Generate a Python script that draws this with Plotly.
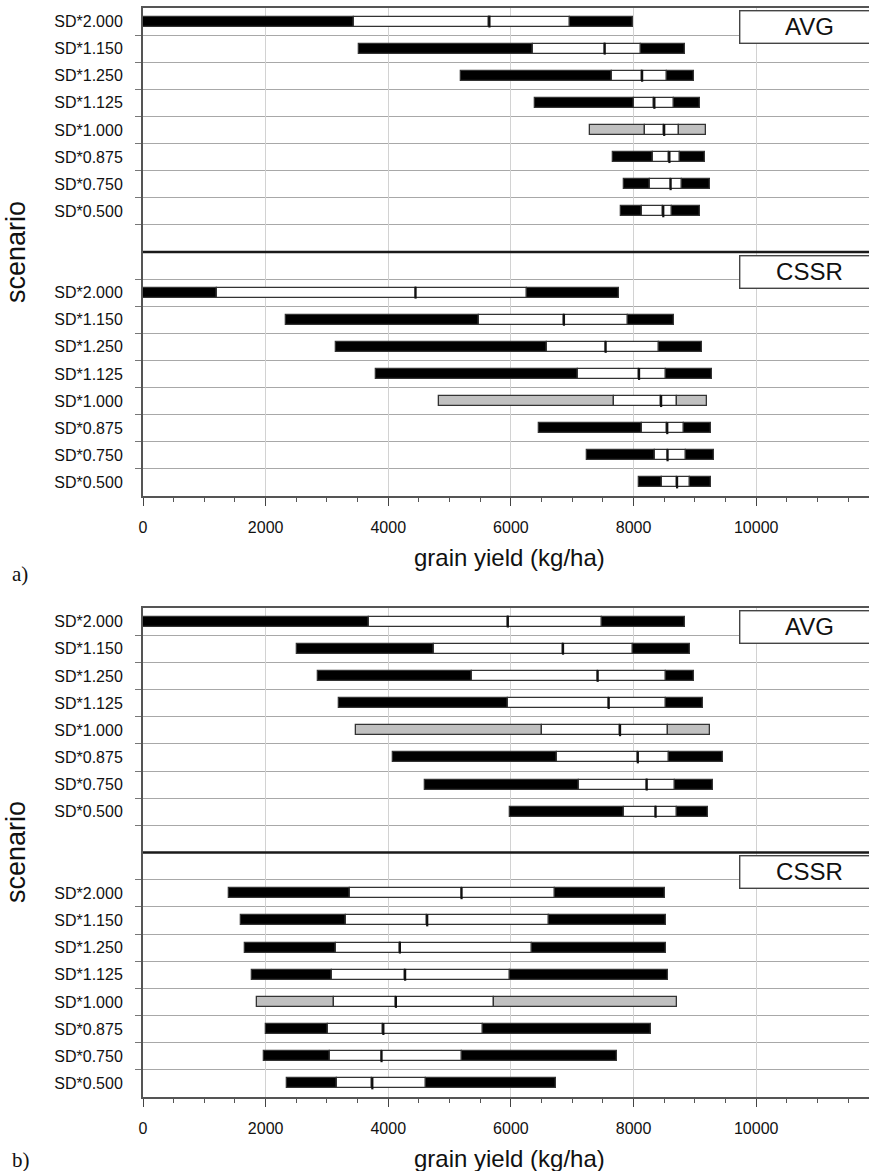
import plotly.graph_objects as go

# Scenario labels (top to bottom within each block)
scenarios = ["SD*2.000", "SD*1.150", "SD*1.250", "SD*1.125",
             "SD*1.000", "SD*0.875", "SD*0.750", "SD*0.500"]
baseline_index = 4  # SD*1.000 drawn in grey

x_ticks = [0, 2000, 4000, 6000, 8000, 10000]

# Panel a) — AVG
a_avg_min = [0, 3530, 5190, 6400, 7290, 7670, 7840, 7800]
a_avg_q1 = [3445, 6365, 7650, 8000, 8180, 8310, 8265, 8140]
a_avg_med = [5650, 7530, 8140, 8340, 8500, 8585, 8605, 8485]
a_avg_q3 = [6965, 8125, 8550, 8665, 8735, 8750, 8790, 8625]
a_avg_max = [7985, 8835, 8990, 9085, 9180, 9170, 9245, 9085]

# Panel a) — CSSR
a_cssr_min = [0, 2330, 3140, 3795, 4820, 6460, 7240, 8095]
a_cssr_q1 = [1200, 5485, 6595, 7095, 7685, 8140, 8355, 8460]
a_cssr_med = [4445, 6865, 7545, 8090, 8450, 8550, 8555, 8710]
a_cssr_q3 = [6270, 7915, 8410, 8535, 8705, 8820, 8855, 8920]
a_cssr_max = [7765, 8665, 9115, 9275, 9195, 9260, 9305, 9260]

# Panel b) — AVG
b_avg_min = [0, 2515, 2860, 3200, 3475, 4080, 4605, 5980]
b_avg_q1 = [3690, 4750, 5360, 5950, 6510, 6750, 7110, 7840]
b_avg_med = [5950, 6850, 7415, 7595, 7780, 8070, 8215, 8360]
b_avg_q3 = [7490, 7985, 8535, 8525, 8560, 8580, 8675, 8715]
b_avg_max = [8835, 8915, 8990, 9130, 9245, 9465, 9290, 9210]

# Panel b) — CSSR
b_cssr_min = [1395, 1600, 1665, 1770, 1855, 2000, 1975, 2350]
b_cssr_q1 = [3370, 3305, 3145, 3075, 3120, 3010, 3055, 3165]
b_cssr_med = [5195, 4635, 4190, 4275, 4125, 3920, 3890, 3740]
b_cssr_q3 = [6725, 6615, 6350, 5985, 5725, 5540, 5195, 4615]
b_cssr_max = [8515, 8530, 8530, 8555, 8710, 8290, 7735, 6735]

# ---- layout geometry (pixels) ----
W, H = 869, 1171
M_L, M_R, M_T, M_B = 143, 0, 8, 74
PLOT_W = W - M_L - M_R
PLOT_H = H - M_T - M_B


def px_x(px):
    return (px - M_L) / PLOT_W


def px_y(py):
    return (H - M_B - py) / PLOT_H


X_MAX = 11840
N_ROWS = 18
ROW_W = 0.37
SANS = "Arial, Liberation Sans, sans-serif"
SERIF = "Times New Roman, Liberation Serif, serif"

avg_pos = [i + 0.5 for i in range(8)]
cssr_pos = [i + 10.5 for i in range(8)]

fig = go.Figure()


def add_block(mins, q1, med, q3, maxs, pos, xa, ya):
    dark = ["#c0c0c0" if i == baseline_index else "#000000" for i in range(len(mins))]
    segments = [
        (mins, q1, dark),
        (q1, med, ["#ffffff"] * len(mins)),
        (med, q3, ["#ffffff"] * len(mins)),
        (q3, maxs, dark),
    ]
    for lo, hi, colors in segments:
        fig.add_trace(go.Bar(
            orientation="h", y=pos, base=lo,
            x=[h - l for l, h in zip(lo, hi)],
            width=ROW_W, xaxis=xa, yaxis=ya,
            marker=dict(color=colors, line=dict(color="#333333", width=1.3)),
            showlegend=False, hoverinfo="skip",
        ))
    fig.add_trace(go.Scatter(
        x=med, y=pos, mode="markers", xaxis=xa, yaxis=ya,
        marker=dict(symbol="line-ns", size=8.5,
                    line=dict(color="#111111", width=2.2)),
        showlegend=False, hoverinfo="skip",
    ))


add_block(a_avg_min, a_avg_q1, a_avg_med, a_avg_q3, a_avg_max, avg_pos, "x", "y")
add_block(a_cssr_min, a_cssr_q1, a_cssr_med, a_cssr_q3, a_cssr_max, cssr_pos, "x", "y")
add_block(b_avg_min, b_avg_q1, b_avg_med, b_avg_q3, b_avg_max, avg_pos, "x2", "y2")
add_block(b_cssr_min, b_cssr_q1, b_cssr_med, b_cssr_q3, b_cssr_max, cssr_pos, "x2", "y2")

boundaries = [b for b in range(1, N_ROWS) if b != 9]

xaxis_style = dict(
    range=[0, X_MAX], tickvals=x_ticks, ticktext=[str(v) for v in x_ticks],
    ticks="outside", ticklen=8, tickwidth=1.3, tickcolor="#444444",
    showline=True, linecolor="#555555", linewidth=2, mirror=True,
    showgrid=True, gridcolor="#d2d2d2", gridwidth=1,
    zeroline=False, ticklabelstandoff=8,
    tickfont=dict(family=SANS, size=16, color="#111111"),
    minor=dict(dtick=500, tick0=0, ticks="outside", ticklen=4,
               tickcolor="#555555", tickwidth=1, showgrid=False),
)
yaxis_style = dict(
    range=[N_ROWS, 0], tickvals=avg_pos + cssr_pos, ticktext=scenarios + scenarios,
    ticks="", showgrid=False, zeroline=False,
    showline=True, linecolor="#555555", linewidth=2, mirror=False,
    ticklabelstandoff=15,
    tickfont=dict(family=SANS, size=16, color="#111111"),
    minor=dict(tickvals=boundaries, ticks="outside", ticklen=6,
               tickcolor="#777777", tickwidth=1.3,
               showgrid=True, gridcolor="#a8a8a8", gridwidth=1.4),
)

fig.update_layout(
    width=W, height=H,
    margin=dict(l=M_L, r=M_R, t=M_T, b=M_B),
    paper_bgcolor="white", plot_bgcolor="white",
    barmode="overlay", bargap=0,
    xaxis=dict(anchor="y", domain=[0, 1], **xaxis_style),
    yaxis=dict(anchor="x", domain=[px_y(496), 1], **yaxis_style),
    xaxis2=dict(anchor="y2", domain=[0, 1], **xaxis_style),
    yaxis2=dict(anchor="x2", domain=[0, px_y(608)], **yaxis_style),
)

# thick separator between the AVG and CSSR blocks
for ya in ["y", "y2"]:
    fig.add_shape(type="line", xref="x domain" if ya == "y" else "x2 domain",
                  yref=ya, x0=0, x1=1, y0=9, y1=9,
                  line=dict(color="#1a1a1a", width=2.6))

# block labels in boxes at the right edge
for label, top in [("AVG", 10), ("CSSR", 255), ("AVG", 610), ("CSSR", 855)]:
    fig.add_annotation(
        xref="paper", yref="paper", x=px_x(739), y=px_y(top),
        xanchor="left", yanchor="top", text=label, showarrow=False,
        width=138, height=31, align="center", valign="middle",
        bgcolor="white", bordercolor="#444444", borderwidth=1.4, borderpad=0,
        font=dict(family=SANS, size=24, color="#111111"),
    )

# axis titles and panel letters
for yc in [558, 1158]:
    fig.add_annotation(xref="paper", yref="paper", x=px_x(510), y=px_y(yc),
                       text="grain yield (kg/ha)", showarrow=False,
                       xanchor="center", yanchor="middle",
                       font=dict(family=SANS, size=24, color="#111111"))
for yc in [252, 852]:
    fig.add_annotation(xref="paper", yref="paper", x=px_x(16), y=px_y(yc),
                       text="scenario", showarrow=False, textangle=-90,
                       xanchor="center", yanchor="middle",
                       font=dict(family=SANS, size=27, color="#111111"))
for letter, yc in [("a)", 574), ("b)", 1160)]:
    fig.add_annotation(xref="paper", yref="paper", x=px_x(10), y=px_y(yc),
                       text=letter, showarrow=False,
                       xanchor="left", yanchor="middle",
                       font=dict(family=SERIF, size=21, color="#111111"))

fig.write_html("out.html")
